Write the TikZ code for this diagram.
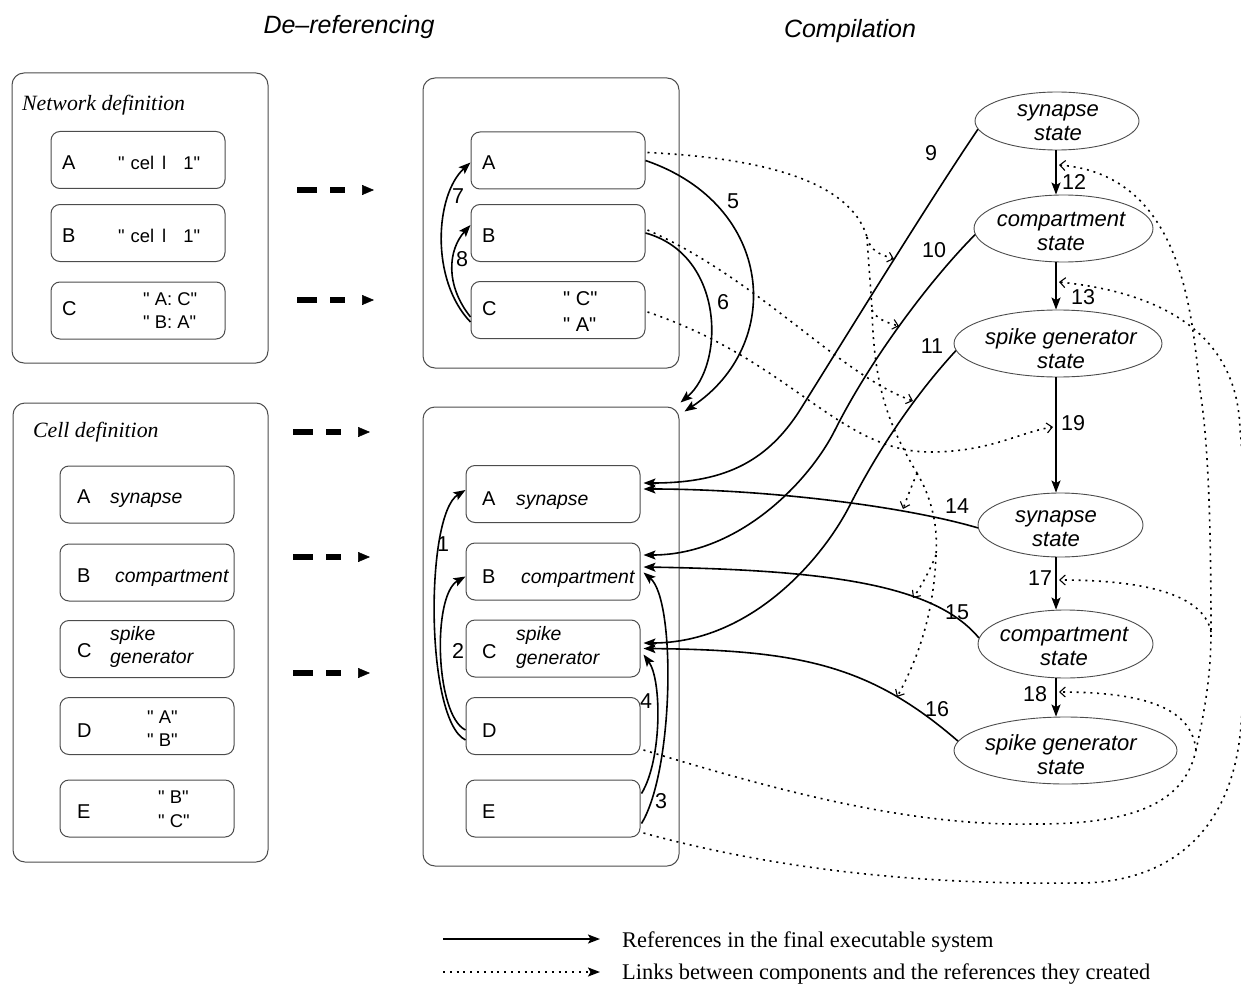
\documentclass[tikz,border=0pt]{standalone}
\usepackage{fontspec}
\setmainfont{Liberation Serif}
\setsansfont{Liberation Sans}
\newfontfamily\qsans{Liberation Sans}
\usetikzlibrary{arrows.meta,shapes.geometric,calc}
\definecolor{boxgray}{gray}{0.3}
\tikzset{
  outerbox/.style={draw=boxgray, line width=1pt, rounded corners=12pt, inner sep=0pt},
  innerbox/.style={draw=boxgray, line width=1pt, rounded corners=9pt, minimum width=174pt, minimum height=57pt, inner sep=0pt},
  stateell/.style={ellipse, draw=boxgray, line width=0.9pt, inner sep=0pt},
  statetxt/.style={inner sep=0pt, align=center, font=\sffamily\itshape\fontsize{22}{24}\selectfont},
  lettertxt/.style={anchor=base west, inner sep=0pt, font=\sffamily\fontsize{20}{24}\selectfont},
  kindtxt/.style={anchor=base west, inner sep=0pt, font=\sffamily\itshape\fontsize{19.4}{24}\selectfont},
  quotetxt/.style={anchor=base west, inner sep=0pt, font=\qsans\fontsize{18.4}{24}\selectfont},
  numlbl/.style={inner sep=0pt, font=\sffamily\fontsize{21.5}{24}\selectfont},
  headtxt/.style={inner sep=0pt, font=\sffamily\itshape\fontsize{25}{30}\selectfont},
  boxttl/.style={anchor=base west, inner sep=0pt, font=\itshape\fontsize{21.8}{26}\selectfont},
  legtxt/.style={anchor=base west, inner sep=0pt, font=\fontsize{22.4}{26}\selectfont},
  refline/.style={draw, line width=1.6pt, -{Stealth[length=12pt,width=9pt,inset=2.5pt]}},
  linkline/.style={draw, line width=1.6pt, dash pattern=on 2pt off 4.8pt, -{Straight Barb[length=5.5pt,width=10pt,line width=1.1pt]}},
  linkseg/.style={draw, line width=1.6pt, dash pattern=on 2pt off 4.8pt},
  linklegend/.style={draw, line width=1.6pt, dash pattern=on 2pt off 4.8pt, -{Stealth[length=12pt,width=9pt,inset=2.5pt]}},
  bigdasharrow/.style={draw, line width=6pt, dash pattern=on 20pt off 13pt on 15pt off 60pt, -{Triangle[length=12pt,width=10pt,line width=0.5pt]}},
}
\begin{document}
\begin{tikzpicture}[x=1pt,y=-1pt]
\useasboundingbox (0,0) rectangle (1241,987);

% headers
\node[headtxt] (hderef) at (349,27) {De–referencing};
\node[headtxt] (hcomp) at (850,31) {Compilation};

% outer boxes
\node[outerbox, minimum width=256pt, minimum height=290pt] (netbox) at (140,218) {};
\node[boxttl] (netttl) at (22,111) {Network definition};
\node[outerbox, minimum width=255pt, minimum height=459pt] (cellbox) at (140.5,632.5) {};
\node[boxttl] (cellttl) at (33,437) {Cell definition};
\node[outerbox, minimum width=256pt, minimum height=290pt] (topbox) at (551,223) {};
\node[outerbox, minimum width=256pt, minimum height=459pt] (botbox) at (551,636.5) {};

% network definition items
\node[innerbox] (nA) at (138,160) {};
\node[innerbox] (nB) at (138,233) {};
\node[innerbox] (nC) at (138,310.5) {};
\node[lettertxt] (nAl) at (62,170) {A};
\node[lettertxt] (nBl) at (62,242) {B};
\node[lettertxt] (nCl) at (62,315) {C};
\node[quotetxt] (nAt) at (118,170) {"\hspace{6pt}cel\hspace{8pt}l\hspace{17pt}1"};
\node[quotetxt] (nBt) at (118,242) {"\hspace{6pt}cel\hspace{8pt}l\hspace{17pt}1"};
\node[quotetxt] (nCt1) at (143,305) {" A: C"};
\node[quotetxt] (nCt2) at (143,328) {" B: A"};

% cell definition items
\node[innerbox] (cA) at (147,494.5) {};
\node[innerbox] (cB) at (147,572.5) {};
\node[innerbox] (cC) at (147,649) {};
\node[innerbox] (cD) at (147,726) {};
\node[innerbox] (cE) at (147,808.5) {};
\node[lettertxt] (cAl) at (77,503) {A};
\node[lettertxt] (cBl) at (77,582) {B};
\node[lettertxt] (cCl) at (77,657) {C};
\node[lettertxt] (cDl) at (77,737) {D};
\node[lettertxt] (cEl) at (77,818) {E};
\node[kindtxt] (cAt) at (110,503) {synapse};
\node[kindtxt] (cBt) at (115,582) {compartment};
\node[kindtxt] (cCt1) at (110,640) {spike};
\node[kindtxt] (cCt2) at (110,663) {generator};
\node[quotetxt] (cDt1) at (147,723) {" A"};
\node[quotetxt] (cDt2) at (147,746) {" B"};
\node[quotetxt] (cEt1) at (158,803) {" B"};
\node[quotetxt] (cEt2) at (158,827) {" C"};

% de-referenced network items
\node[innerbox] (tA) at (558,160.5) {};
\node[innerbox] (tB) at (558,233) {};
\node[innerbox] (tC) at (558,310) {};
\node[lettertxt] (tAl) at (482,170) {A};
\node[lettertxt] (tBl) at (482,242) {B};
\node[lettertxt] (tCl) at (482,315) {C};
\node[quotetxt, font=\qsans\fontsize{20}{24}\selectfont] (tCt1) at (563,305) {" C"};
\node[quotetxt, font=\qsans\fontsize{20}{24}\selectfont] (tCt2) at (563,331) {" A"};

% de-referenced cell items
\node[innerbox] (bA) at (553,494) {};
\node[innerbox] (bB) at (553,571.5) {};
\node[innerbox] (bC) at (553,648.5) {};
\node[innerbox] (bD) at (553,726) {};
\node[innerbox] (bE) at (553,808.5) {};
\node[lettertxt] (bAl) at (482,505) {A};
\node[lettertxt] (bBl) at (482,583) {B};
\node[lettertxt] (bCl) at (482,658) {C};
\node[lettertxt] (bDl) at (482,737) {D};
\node[lettertxt] (bEl) at (482,818) {E};
\node[kindtxt] (bAt) at (516,505) {synapse};
\node[kindtxt] (bBt) at (521,583) {compartment};
\node[kindtxt] (bCt1) at (516,640) {spike};
\node[kindtxt] (bCt2) at (516,664) {generator};

% state ellipses
\node[stateell, minimum width=164pt, minimum height=58pt] (e1) at (1057,121) {};
\node[statetxt] (e1t) at (1058,123) {synapse\\state};
\node[stateell, minimum width=179pt, minimum height=67pt] (e2) at (1063.5,228.5) {};
\node[statetxt] (e2t) at (1061,231) {compartment\\state};
\node[stateell, minimum width=208pt, minimum height=67pt] (e3) at (1058,343.5) {};
\node[statetxt] (e3t) at (1061,349) {spike generator\\state};
\node[stateell, minimum width=165pt, minimum height=64pt] (e4) at (1060.5,525) {};
\node[statetxt] (e4t) at (1056,529) {synapse\\state};
\node[stateell, minimum width=175pt, minimum height=68pt] (e5) at (1065.5,644) {};
\node[statetxt] (e5t) at (1064,646) {compartment\\state};
\node[stateell, minimum width=223pt, minimum height=67pt] (e6) at (1065.5,750.5) {};
\node[statetxt] (e6t) at (1061,755) {spike generator\\state};

% big dashed arrows
\coordinate (bd1s) at (297,190); \coordinate (bd1e) at (374,190);
\coordinate (bd2s) at (297,300); \coordinate (bd2e) at (374,300);
\coordinate (bd3s) at (293,432); \coordinate (bd3e) at (370,432);
\coordinate (bd4s) at (293,557); \coordinate (bd4e) at (370,557);
\coordinate (bd5s) at (293,673); \coordinate (bd5e) at (370,673);
\path[bigdasharrow] (bd1s) -- (bd1e);
\path[bigdasharrow] (bd2s) -- (bd2e);
\path[bigdasharrow] (bd3s) -- (bd3e);
\path[bigdasharrow] (bd4s) -- (bd4e);
\path[bigdasharrow] (bd5s) -- (bd5e);

% references in the de-referencing stage
\path[refline] (tA.east) .. controls (775,205) and (785,345) .. ($(botbox.north east)+(5,5)$);
\path[refline] (tB.east) .. controls (725,255) and (725,365) .. ($(botbox.north east)+(1,-4)$);
\path[refline] ($(tC.west)+(0,12)$) .. controls (430,280) and (435,195) .. ($(tA.west)+(0,2)$);
\path[refline] ($(tC.west)+(0,7)$) .. controls (445,285) and (448,250) .. ($(tB.west)+(0,-8)$);
\path[refline] ($(bD.west)+(0,14)$) .. controls (425,720) and (425,515) .. ($(bA.west)+(0,-4)$);
\path[refline] ($(bD.west)+(0,4)$) .. controls (435,715) and (432,595) .. ($(bB.west)+(0,5)$);
\path[refline] ($(bE.east)+(1,-15)$) .. controls (662,760) and (662,680) .. ($(bC.east)+(3,6)$);
\path[refline] ($(bE.east)+(1,15)$) .. controls (674,770) and (676,600) .. ($(bB.east)+(3,1)$);

% references from the compiled states
\path[refline] (e1.186) .. controls (930,200) and (850,330) .. (800,410) .. controls (765,465) and (720,483) .. ($(bA.east)+(3,-11)$);
\path[refline] (e2.184) .. controls (930,280) and (870,360) .. (835,430) .. controls (810,480) and (740,555) .. ($(bB.east)+(3,-16.5)$);
\path[refline] (e3.184) .. controls (915,395) and (878,450) .. (850,505) .. controls (822,560) and (750,643) .. ($(bC.east)+(3,-5.5)$);
\path[refline] (e4.182) .. controls (900,505) and (760,489) .. ($(bA.east)+(3,-5)$);
\path[refline] (e5.176) .. controls (935,585) and (830,570) .. ($(bB.east)+(3,-4.5)$);
\path[refline] (e6.175) .. controls (870,665) and (800,650) .. ($(bC.east)+(3,0)$);

\coordinate (vx) at (1056,0);
\path[refline] (vx |- e1.south) -- (vx |- e2.north);
\path[refline] (vx |- e2.south) -- (vx |- e3.north);
\path[refline] (vx |- e3.south) -- (vx |- e4.north);
\path[refline] (vx |- e4.south) -- (vx |- e5.north);
\path[refline] (vx |- e5.south) -- (vx |- e6.north);

% numbers
\node[numlbl] (l1) at (443,544) {1};
\node[numlbl] (l2) at (458,651) {2};
\node[numlbl] (l3) at (661,801) {3};
\node[numlbl] (l4) at (646,701) {4};
\node[numlbl] (l5) at (733,201) {5};
\node[numlbl] (l6) at (723,302) {6};
\node[numlbl] (l7) at (458,196) {7};
\node[numlbl] (l8) at (462,259) {8};
\node[numlbl] (l9) at (931,153) {9};
\node[numlbl] (l10) at (934,250) {10};
\node[numlbl] (l11) at (932,346) {11};
\node[numlbl] (l12) at (1074,182) {12};
\node[numlbl] (l13) at (1083,297) {13};
\node[numlbl] (l19) at (1073,423) {19};
\node[numlbl] (l14) at (957,506) {14};
\node[numlbl] (l15) at (957,612) {15};
\node[numlbl] (l16) at (937,709) {16};
\node[numlbl] (l17) at (1040,578) {17};
\node[numlbl] (l18) at (1035,694) {18};

% links between components and references
\coordinate (jA1) at (867,237);
\coordinate (jA2) at (872,310);
\coordinate (jB1) at (917,473);
\coordinate (jB2) at (936,555);
\coordinate (tip9) at (894,259);
\coordinate (tip10) at (899,326);
\coordinate (tip11) at (913,401);
\coordinate (tip14) at (903,509);
\coordinate (tip15) at (913,598);
\coordinate (tip16) at (897,697);
\coordinate (tip19) at (1053,427);
\path[linkseg] ($(tA.east)+(2,-8)$) .. controls (760,158) and (850,180) .. (jA1);
\path[linkline] (jA1) .. controls (870,250) and (878,254) .. (tip9);
\path[linkseg] (jA1) .. controls (869,270) and (871,290) .. (jA2);
\path[linkline] (jA2) .. controls (876,318) and (884,322) .. (tip10);
\path[linkseg] (jA2) .. controls (874,380) and (885,420) .. (jB1);
\path[linkline] (jB1) .. controls (913,483) and (908,495) .. (tip14);
\path[linkseg] (jB1) .. controls (933,500) and (938,530) .. (jB2);
\path[linkline] (jB2) .. controls (930,570) and (922,585) .. (tip15);
\path[linkline] (jB2) .. controls (934,610) and (920,655) .. (tip16);
\path[linkline] ($(tB.east)+(2,-3)$) .. controls (760,280) and (840,375) .. (tip11);
\path[linkline] ($(tC.east)+(2,2)$) .. controls (790,360) and (840,452) .. (930,452) .. controls (990,452) and (1020,432) .. (tip19);

\coordinate (jD1) at (1211,632);
\coordinate (jD2) at (1196,750);
\coordinate (tip12) at (1059,165);
\coordinate (tip13) at (1059,282);
\coordinate (tip17) at (1059,580);
\coordinate (tip18) at (1059,692);
\path[linkline] ($(bD.east)+(3,24)$) .. controls (760,785) and (900,826) .. (1030,824) .. controls (1140,825) and (1185,800) .. (jD2) .. controls (1203,718) and (1211,680) .. (jD1) .. controls (1211,520) and (1208,440) .. (1200,390) .. controls (1192,320) and (1185,175) .. (tip12);
\path[linkline] (jD1) .. controls (1205,600) and (1160,580) .. (tip17);
\path[linkline] (jD2) .. controls (1192,715) and (1160,692) .. (tip18);
\path[linkline] ($(bE.east)+(3,24.5)$) .. controls (760,865) and (900,885) .. (1073,883) .. controls (1170,885) and (1242,830) .. (1242,700) .. controls (1245,600) and (1246,480) .. (1240,430) .. controls (1238,350) and (1185,295) .. (tip13);

% legend
\coordinate (lg1s) at (443,939); \coordinate (lg1e) at (600,939);
\coordinate (lg2s) at (443,972); \coordinate (lg2e) at (600,972);
\path[refline] (lg1s) -- (lg1e);
\path[linklegend] (lg2s) -- (lg2e);
\node[legtxt] (lg1t) at (622,947) {References in the final executable system};
\node[legtxt] (lg2t) at (622,979) {Links between components and the references they created};
\end{tikzpicture}
\end{document}
